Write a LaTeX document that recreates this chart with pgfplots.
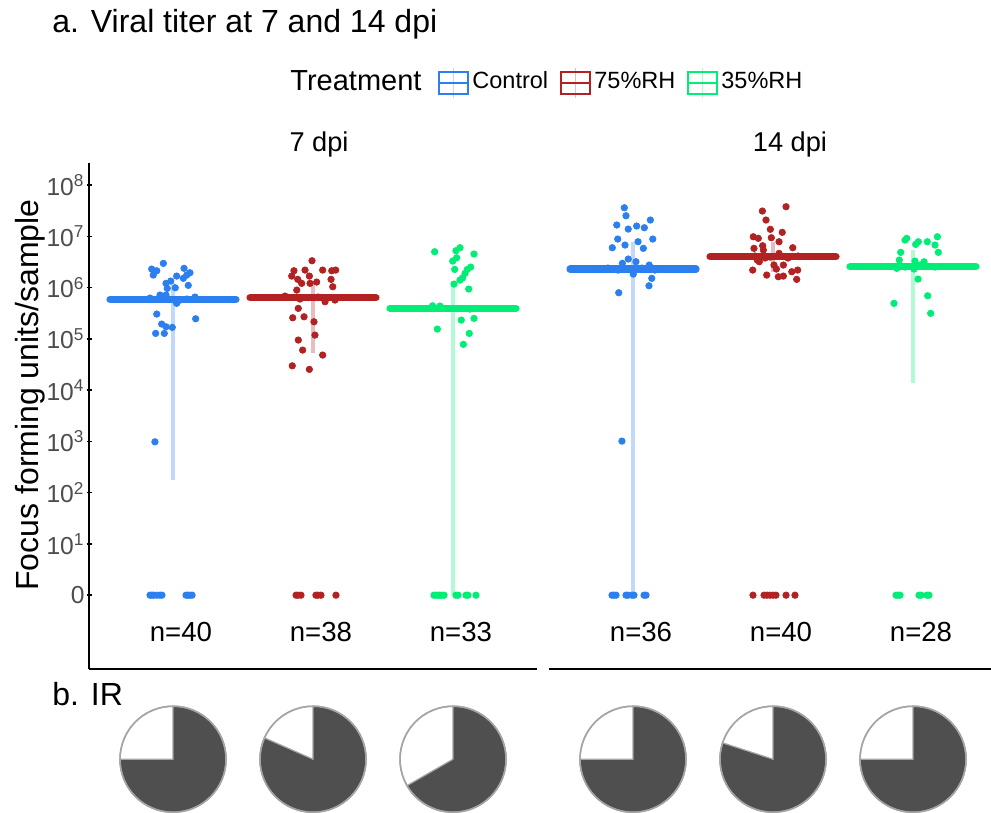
\documentclass[border=0pt]{standalone}
\usepackage{pgfplots}
\pgfplotsset{compat=1.18}
\usepackage{fontspec}
\setmainfont{Liberation Sans}
\definecolor{cblue}{RGB}{43,127,239}
\definecolor{cred}{RGB}{178,34,34}
\definecolor{cgreen}{RGB}{0,238,118}
\definecolor{tickgray}{RGB}{77,77,77}
\definecolor{piedark}{RGB}{79,79,79}
\definecolor{piegray}{RGB}{165,165,165}
\newcommand\fs[1]{\fontsize{#1}{#1}\selectfont}
\newcommand\irpie[2]{%
  \filldraw[fill=white, draw=piegray, line width=0.75pt] (axis cs:#1,-3.2) circle[radius=26.5pt];
  \filldraw[fill=piedark, draw=piegray, line width=0.6pt] (axis cs:#1,-3.2) -- ++(90:26.5pt) arc[start angle=90, delta angle={-360*#2}, radius=26.5pt] -- cycle;
  \draw[piegray, line width=0.75pt] (axis cs:#1,-3.2) circle[radius=26.5pt];
}
\pgfplotsset{
  facet/.style={
    scale only axis, height=253pt, ymin=-1.44, ymax=8.43, xmin=0.4,
    axis x line=bottom,
    xtick=\empty, clip=false,
    tick align=outside, major tick length=2.5pt, tick style={line width=0.75pt, black},
  },
  errln/.style={line width=2pt, forget plot},
  meanbar/.style={line width=3.6pt, line cap=round, forget plot},
  pts/.style={only marks, mark=*, mark size=1.6pt, forget plot},
}
\begin{document}
\begin{tikzpicture}
\useasboundingbox (0,0) rectangle (495.5pt,406.5pt);
% ---------------- 7 dpi ----------------
\begin{axis}[facet, at={(44.5pt,72pt)}, anchor=south west, width=224pt, xmax=3.6,
  axis y line=left,
  axis line style={-, line width=0.75pt, black},
  ytick={0,1,2,3,4,5,6,7,8},
  yticklabels={0,10\textsuperscript{1},10\textsuperscript{2},10\textsuperscript{3},10\textsuperscript{4},10\textsuperscript{5},10\textsuperscript{6},10\textsuperscript{7},10\textsuperscript{8}},
  yticklabel style={font=\fs{12.3}, text=tickgray, inner sep=0.8pt},
]
\addplot[errln, cblue!30] coordinates {(1,2.24) (1,6.09)};
\addplot[errln, cred!30] coordinates {(2,4.72) (2,6.09)};
\addplot[errln, cgreen!30] coordinates {(3,0) (3,6.05)};
\addplot[meanbar, cblue] coordinates {(0.55,5.77) (1.45,5.77)};
\addplot[meanbar, cred] coordinates {(1.55,5.80) (2.45,5.80)};
\addplot[meanbar, cgreen] coordinates {(2.55,5.594) (3.45,5.594)};
\addplot[pts, cblue] table {
x y
0.931 6.472
0.848 6.361
0.884 6.328
0.859 6.244
1.079 6.375
1.121 6.289
1.098 6.244
1.074 6.180
1.026 6.224
0.984 6.127
0.950 6.082
1.016 5.996
1.109 6.043
0.959 5.984
0.907 5.854
0.950 5.854
1.026 5.692
0.884 5.483
1.162 5.391
0.919 5.288
0.950 5.235
0.995 5.223
0.876 5.106
0.938 5.106
0.871 2.991
0.836 5.795
0.943 5.815
1.050 5.756
1.157 5.815
1.100 5.776
0.836 0
0.850 0
0.864 0
0.886 0
0.907 0
0.921 0
1.093 0
1.107 0
1.121 0
1.136 0
};
\addplot[pts, cred] table {
x y
1.993 6.523
1.864 6.328
1.943 6.341
2.069 6.341
2.134 6.328
2.162 6.341
1.848 6.224
1.891 6.160
1.974 6.224
1.919 6.082
1.979 6.082
2.026 6.107
2.129 6.160
2.141 6.016
1.884 5.951
2.086 5.723
2.157 5.756
1.895 5.594
1.855 5.411
1.936 5.430
2.007 5.333
2.014 5.073
1.895 4.976
1.926 4.780
2.069 4.683
1.852 4.474
1.974 4.404
1.800 5.834
1.907 5.776
2.036 5.815
2.160 5.776
1.879 0
1.893 0
1.914 0
2.021 0
2.036 0
2.057 0
2.164 0
};
\addplot[pts, cgreen] table {
x y
2.869 6.699
3.021 6.718
3.050 6.777
3.150 6.654
3.026 6.582
2.998 6.517
3.012 6.355
3.102 6.355
3.126 6.400
3.086 6.277
3.069 6.191
3.050 6.146
3.007 6.068
3.112 5.971
2.854 5.645
3.059 5.366
3.150 5.399
2.888 5.190
3.116 5.106
3.074 4.892
2.907 5.639
3.121 5.580
2.864 0
2.879 0
2.893 0
2.907 0
2.921 0
2.936 0
3.021 0
3.036 0
3.093 0
3.107 0
3.164 0
};
\node[anchor=base, inner sep=0] at (axis cs:1.057,-0.898) {\fs{13.8}n=40};
\node[anchor=base, inner sep=0] at (axis cs:2.057,-0.898) {\fs{13.8}n=38};
\node[anchor=base, inner sep=0] at (axis cs:3.057,-0.898) {\fs{13.8}n=33};
\irpie{1}{0.75}
\irpie{2}{0.816}
\irpie{3}{0.667}
\end{axis}
% ---------------- 14 dpi ----------------
\begin{axis}[facet, at={(274.5pt,72pt)}, anchor=south west, width=221pt, xmax=3.557,
  axis y line=none,
  axis line style={-, line width=0.75pt, black},
]
\addplot[errln, cblue!30] coordinates {(1,0) (1,6.89)};
\addplot[errln, cred!30] coordinates {(2,6.31) (2,6.89)};
\addplot[errln, cgreen!30] coordinates {(3,4.14) (3,6.73)};
\addplot[meanbar, cblue] coordinates {(0.55,6.361) (1.45,6.361)};
\addplot[meanbar, cred] coordinates {(1.55,6.601) (2.45,6.601)};
\addplot[meanbar, cgreen] coordinates {(2.55,6.406) (3.45,6.406)};
\addplot[pts, cblue] table {
x y
0.938 7.557
0.950 7.401
0.884 7.220
0.966 7.141
1.026 7.200
1.081 7.167
1.124 7.317
0.891 6.946
0.943 6.829
1.036 6.894
1.141 6.946
0.852 6.777
1.074 6.765
0.966 6.556
0.924 6.472
1.021 6.504
1.116 6.439
1.002 6.263
1.134 6.180
1.114 6.035
0.898 5.899
0.921 3.005
0.821 6.380
0.893 6.341
1.064 6.380
1.157 6.341
0.979 6.360
0.850 0
0.864 0
0.879 0
0.950 0
0.964 0
0.993 0
1.007 0
1.079 0
1.093 0
};
\addplot[pts, cred] table {
x y
2.093 7.577
1.924 7.493
1.950 7.317
1.981 7.136
2.066 7.077
1.859 6.991
1.895 6.960
1.988 6.972
2.043 6.894
1.926 6.816
1.864 6.765
1.931 6.732
2.141 6.777
2.043 6.667
1.888 6.537
1.902 6.504
2.007 6.439
2.074 6.439
1.855 6.341
2.024 6.361
1.955 6.244
2.038 6.211
2.074 6.224
2.134 6.309
2.176 6.341
2.169 6.160
1.871 6.615
1.943 6.576
2.036 6.615
2.107 6.576
1.979 6.595
2.179 6.615
1.857 0
1.936 0
1.957 0
1.979 0
2.000 0
2.021 0
2.093 0
2.157 0
};
\addplot[pts, cgreen] table {
x y
2.943 6.927
2.955 6.960
3.019 6.843
3.038 6.894
3.102 6.894
3.174 6.991
3.157 6.829
3.181 6.687
2.912 6.687
2.902 6.537
3.014 6.517
3.079 6.504
2.884 6.375
3.007 6.361
3.036 6.166
3.105 5.840
2.864 5.692
3.126 5.497
2.943 6.400
3.050 6.439
3.157 6.400
2.879 0
2.893 0
2.907 0
3.043 0
3.057 0
3.100 0
3.114 0
};
\node[anchor=base, inner sep=0] at (axis cs:1.057,-0.898) {\fs{13.8}n=36};
\node[anchor=base, inner sep=0] at (axis cs:2.057,-0.898) {\fs{13.8}n=40};
\node[anchor=base, inner sep=0] at (axis cs:3.057,-0.898) {\fs{13.8}n=28};
\irpie{1}{0.75}
\irpie{2}{0.80}
\irpie{3}{0.75}
\end{axis}
% ---------------- texts ----------------
\node[anchor=base west, inner sep=0] at (26pt,390pt) {\fs{16}a. Viral titer at 7 and 14 dpi};
\node[anchor=base west, inner sep=0] at (26pt,53.5pt) {\fs{16}b. IR};
\node[anchor=base, inner sep=0, rotate=90] at (19.5pt,209pt) {\fs{16}Focus forming units/sample};
\node[anchor=base, inner sep=0] at (159.5pt,330.5pt) {\fs{13.6}7 dpi};
\node[anchor=base, inner sep=0] at (395pt,330.5pt) {\fs{13.6}14 dpi};
% ---------------- legend ----------------
\node[anchor=base west, inner sep=0] at (145pt,361pt) {\fs{14.5}Treatment};
\draw[cblue!30, line width=0.8pt] (226.75pt,357.5pt) -- (226.75pt,372.5pt);
\draw[cblue, line width=1pt] (219.5pt,359.5pt) rectangle (234pt,370.5pt);
\draw[cblue, line width=1pt] (219.5pt,365pt) -- (234pt,365pt);
\node[anchor=base west, inner sep=0] at (236pt,362pt) {\fs{11.75}Control};
\draw[cred!30, line width=0.8pt] (287.75pt,357.5pt) -- (287.75pt,372.5pt);
\draw[cred, line width=1pt] (280.5pt,359.5pt) rectangle (295pt,370.5pt);
\draw[cred, line width=1pt] (280.5pt,365pt) -- (295pt,365pt);
\node[anchor=base west, inner sep=0] at (297pt,362pt) {\fs{11.75}75\%RH};
\draw[cgreen!30, line width=0.8pt] (351.25pt,357.5pt) -- (351.25pt,372.5pt);
\draw[cgreen, line width=1pt] (344pt,359.5pt) rectangle (358.5pt,370.5pt);
\draw[cgreen, line width=1pt] (344pt,365pt) -- (358.5pt,365pt);
\node[anchor=base west, inner sep=0] at (360.5pt,362pt) {\fs{11.75}35\%RH};
\end{tikzpicture}
\end{document}
